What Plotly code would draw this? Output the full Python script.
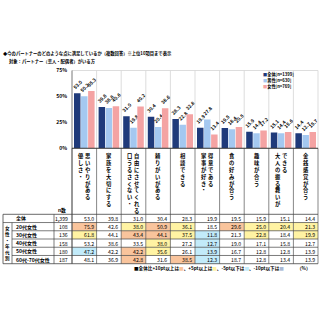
import plotly.graph_objects as go

# ---------------- data ----------------
categories = ["優しさ・思いやりがある", "家族を大切にする", "口うるさくない・自由にさせてくれる",
              "頼りがいがある", "相談できる", "家事が好き・得意である", "食の好みが合う",
              "趣味が合う", "大人の振る舞いができる", "金銭感覚が合う"]
header_lines = [["優しさ・", "思いやりがある"], ["家族を大切にする"],
                ["口うるさくない・", "自由にさせてくれる"], ["頼りがいがある"], ["相談できる"],
                ["家事が好き・", "得意である"], ["食の好みが合う"], ["趣味が合う"],
                ["大人の振る舞いが", "できる"], ["金銭感覚が合う"]]
series_names = ["全体[n=1399]", "男性[n=630]", "女性[n=769]"]
total = [53.0, 39.8, 31.0, 30.4, 28.3, 19.9, 19.5, 15.9, 15.1, 14.4]
male = [50.2, 38.8, 19.8, 20.4, 22.8, 27.8, 18.4, 14.4, 14.4, 12.7]
female = [55.3, 40.6, 40.2, 38.6, 32.8, 13.4, 20.5, 17.2, 15.6, 15.7]

row_labels = ["全体", "20代女性", "30代女性", "40代女性", "50代女性", "60代-70代女性"]
row_n = ["1,399", "108", "136", "158", "180", "187"]
row_20s = [75.9, 42.6, 38.0, 50.9, 36.1, 18.5, 29.6, 25.0, 20.4, 21.3]
row_30s = [61.8, 44.1, 43.4, 44.1, 37.5, 11.8, 21.3, 22.8, 18.4, 19.9]
row_40s = [53.2, 38.6, 33.5, 38.0, 27.2, 12.7, 19.0, 17.1, 15.8, 12.7]
row_50s = [47.2, 42.2, 42.2, 35.6, 26.1, 13.9, 16.7, 12.8, 12.8, 13.9]
row_60s = [48.1, 36.9, 42.8, 31.6, 38.5, 12.3, 18.7, 12.8, 13.4, 13.9]
table_rows = [total, row_20s, row_30s, row_40s, row_50s, row_60s]

y_tickvals = [0, 25, 50, 75]
y_ticktext = ["0%", "25%", "50%", "75%"]

title1 = "◆今のパートナーのどのような点に満足しているか（複数回答）※上位10項目まで表示"
title2 = "対象：パートナー（恋人・配偶者）がいる方"

# ---------------- style ----------------
W = H = 320
FONT = "Noto Sans CJK JP"
bar_colors = ["#1f3a7a", "#a4c8f0", "#f4a3a3"]
c_p10, c_p5, c_m5, c_m10 = "#f9c49c", "#fff3a3", "#c2ebfa", "#aabad6"
X0, X1 = 72, 318
YT, YB = 68, 147.5
PITCH = (X1 - X0) / len(categories)
TBL_TOP = 215.0
ROW_H = 8.42
TBL_BOT = TBL_TOP + ROW_H * len(table_rows)


def px(x):
    return x / W


def py(y):
    return 1 - y / H


fig = go.Figure()
for name, vals, col in zip(series_names, [total, male, female], bar_colors):
    fig.add_trace(go.Bar(
        x=categories, y=vals, name=name, marker=dict(color=col, line=dict(width=0)),
        texttemplate="%{y:.1f}", textposition="outside", textangle=-45,
        textfont=dict(size=4.8, family=FONT, color="#000", weight="bold"),
        cliponaxis=False, constraintext="none", showlegend=False))

shapes = []
anns = []


def line(x0, y0, x1, y1, color="#444", width=0.7):
    shapes.append(dict(type="line", xref="paper", yref="paper", x0=px(x0), y0=py(y0),
                       x1=px(x1), y1=py(y1), line=dict(color=color, width=width)))


def rect(x0, y0, x1, y1, fill):
    shapes.append(dict(type="rect", xref="paper", yref="paper", x0=px(x0), y0=py(y0),
                       x1=px(x1), y1=py(y1), fillcolor=fill, line=dict(width=0), layer="below"))


def txt(x, y, s, size, xanchor="center", yanchor="middle", bold=False, color="#000"):
    anns.append(dict(x=px(x), y=py(y), xref="paper", yref="paper", text=s, showarrow=False,
                     xanchor=xanchor, yanchor=yanchor, align="center", borderpad=0,
                     font=dict(size=size, family=FONT, color=color,
                               weight="bold" if bold else "normal")))


# chart grid: vertical dividers + top border
for i in range(1, len(categories) + 1):
    xx = X0 + PITCH * i
    line(xx, YT, xx, YB, "#d4d4d4", 0.8)
line(X0, YT, X1, YT, "#d4d4d4", 0.8)

# header column borders
for i in range(len(categories) + 1):
    xx = X0 + PITCH * i
    line(xx, YB, xx, TBL_BOT, "#555", 0.7)
line(X0, YT, X0, TBL_BOT, "#555", 0.8)
line(X0, YB, X1, YB, "#333", 1)

# header vertical text
for i, parts in enumerate(header_lines):
    cx = X0 + PITCH * (i + 0.5)
    n = len(parts)
    for j, p in enumerate(parts):
        ox = cx + (j - (n - 1) / 2) * 7
        txt(ox, 150, "<br>".join(list(p)), 5.3, yanchor="top", bold=True)
txt(62, 211, "n数", 4.8, bold=True)

# table cells
for r, vals in enumerate(table_rows):
    yc = TBL_TOP + ROW_H * (r + 0.5)
    for i, v in enumerate(vals):
        x_left = X0 + PITCH * i
        if r > 0:
            d = round(v - total[i], 1)
            fill = None
            if d >= 10:
                fill = c_p10
            elif d >= 5:
                fill = c_p5
            elif d <= -10:
                fill = c_m10
            elif d <= -5:
                fill = c_m5
            if fill:
                rect(x_left, TBL_TOP + ROW_H * r, x_left + PITCH, TBL_TOP + ROW_H * (r + 1), fill)
        txt(x_left + PITCH - 2, yc, f"{v:.1f}", 5.2, xanchor="right")
    txt(15, yc, row_labels[r], 5.0, xanchor="left", bold=True)
    txt(69, yc, row_n[r], 5.2, xanchor="right")

# table lines
line(3, TBL_TOP, X1, TBL_TOP, "#444", 0.8)
for r in range(1, len(table_rows)):
    yy = TBL_TOP + ROW_H * r
    line(3 if r == 1 else 12, yy, X1, yy, "#444", 0.7)
line(3, TBL_BOT, X1, TBL_BOT, "#444", 0.8)
line(3, TBL_TOP, 3, TBL_BOT, "#444", 0.8)
line(12, TBL_TOP + ROW_H, 12, TBL_BOT, "#444", 0.7)
line(54, TBL_TOP, 54, TBL_BOT, "#444", 0.7)
txt(7.5, (TBL_TOP + ROW_H + TBL_BOT) / 2, "<br>".join(list("女性・年代別")), 4.6, bold=True)

# legend (manual)
for k, (name, col) in enumerate(zip(series_names, bar_colors)):
    txt(262, 72.5 + 5.8 * k, f'<span style="color:{col}">■</span>{name}', 4.2,
        xanchor="left", bold=True)

# footnote
foot = ('■全体比+10pt以上は<span style="color:%s">■</span>、+5pt以上は<span style="color:%s">■</span>、'
        '-5pt以下は<span style="color:%s">■</span>、-10pt以下は<span style="color:%s">■</span>'
        % (c_p10, c_p5, c_m5, c_m10))
txt(285, 270, foot, 4.6, xanchor="right", bold=True)
txt(304, 270, "（%）", 4.6, bold=True)

# titles
txt(2, 50.5, title1, 4.3, xanchor="left", bold=True)
txt(8, 58.5, title2, 4.3, xanchor="left", bold=True)

fig.update_layout(
    width=W, height=H, margin=dict(l=0, r=0, t=0, b=0),
    paper_bgcolor="white", plot_bgcolor="white",
    barmode="group", bargap=0.14, bargroupgap=0.08,
    xaxis=dict(domain=[px(X0), px(X1)], range=[-0.5, len(categories) - 0.5],
               showticklabels=False, showgrid=False, zeroline=False, ticks=""),
    yaxis=dict(domain=[py(YB), py(YT)], range=[0, 75], tickvals=y_tickvals,
               ticktext=y_ticktext, showgrid=False, zeroline=False, ticks="",
               tickfont=dict(size=5.0, family=FONT, color="#000", weight="bold"),
               ticklabelstandoff=4),
    shapes=shapes, annotations=anns, showlegend=False,
)

fig.write_html("out.html")
